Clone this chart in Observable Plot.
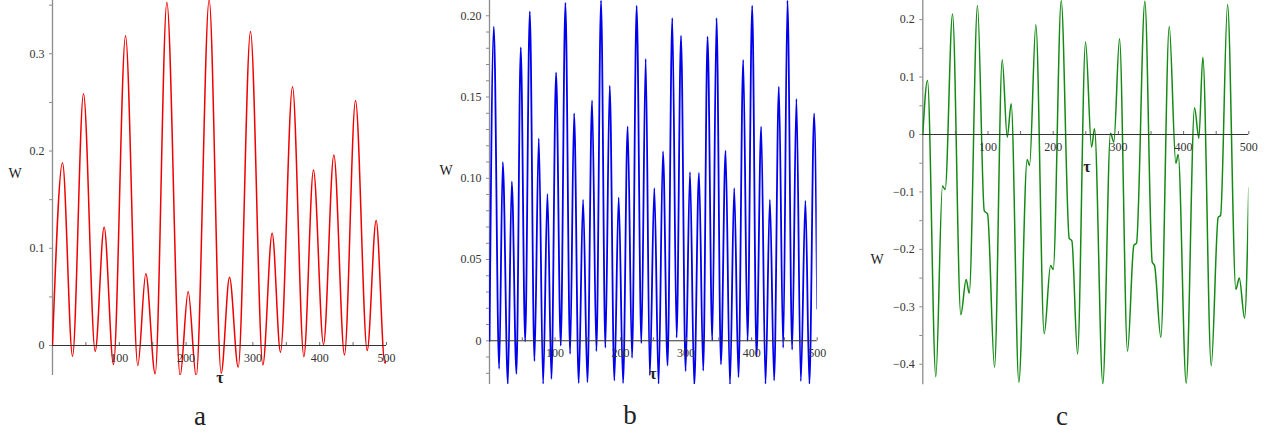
<!DOCTYPE html>
<html><head><meta charset="utf-8">
<script src="https://cdn.jsdelivr.net/npm/d3@7"></script>
<script src="https://cdn.jsdelivr.net/npm/@observablehq/plot@0.6"></script>
<style>
body{margin:0;background:#fff;}
#wrap{position:relative;width:1271px;height:436px;overflow:hidden;background:#fff;font-family:"Liberation Serif","Times New Roman",serif;}
.panel{position:absolute;top:0;}
.lbl{position:absolute;transform:translate(-50%,-50%);white-space:nowrap;color:#222;line-height:1;}
</style></head><body><div id="wrap"></div>
<script>
// ---- data ----
const tauA = [0, 15, 30, 46.4, 63.9, 77.3, 91.3, 109.3, 127.7, 139.7, 153.7, 171.2, 191.1, 203.1, 215.1, 234.5, 252.5, 265, 278, 296.4, 314.9, 328.8, 341.3, 359.3, 376.3, 390.7, 405.7, 421.2, 437.1, 453.6, 471.1, 484.5, 497.5, 500];
const wA = [0, 0.188, -0.011, 0.259, -0.006, 0.1216, -0.0195, 0.3186, -0.0206, 0.0737, -0.029, 0.353, -0.031, 0.0555, -0.032, 0.3555, -0.0285, 0.0702, -0.0223, 0.323, -0.0199, 0.1155, -0.0069, 0.266, -0.0113, 0.1805, 0.001, 0.196, -0.0096, 0.252, -0.005, 0.1285, -0.018, -0.015];

const tauB = [0, 6.6, 14.7, 20.3, 28, 34, 41.1, 47.7, 54.4, 61.5, 68.6, 75.2, 81.8, 88.4, 94.5, 101.6, 108.7, 115.8, 123, 129.1, 136.1, 142.8, 149.4, 156.5, 163.1, 170.2, 176.8, 183.4, 190.5, 197.1, 203.8, 210.8, 217.5, 224.5, 231.7, 238.3, 244.6, 251.5, 258, 264.7, 271.7, 278.9, 285.5, 292.2, 299.2, 305.9, 312.4, 319.6, 326.1, 332.7, 339.9, 346.4, 353.1, 360.2, 366.9, 373.4, 379.9, 387.1, 393.7, 400.8, 407.4, 414.5, 421.1, 427.8, 434.3, 441.5, 448.1, 454.6, 461.8, 468.3, 475, 482, 488.1, 495.3, 500];
const wB = [0, 0.1933, -0.0172, 0.1099, -0.0265, 0.098, -0.0203, 0.1806, -0.0004, 0.2027, -0.0125, 0.1246, -0.0265, 0.0904, -0.0234, 0.1652, -0.003, 0.208, -0.008, 0.140, -0.026, 0.0869, -0.0255, 0.148, -0.0064, 0.2094, -0.0043, 0.157, -0.0244, 0.0883, -0.026, 0.132, -0.0105, 0.2062, -0.0015, 0.1734, -0.0213, 0.0939, -0.0265, 0.1166, -0.0152, 0.1986, 0.002, 0.1878, -0.0187, 0.1037, -0.0275, 0.1033, -0.0183, 0.1871, 0.0002, 0.1986, -0.0146, 0.117, -0.0269, 0.0939, -0.0224, 0.1728, 0, 0.2062, -0.0097, 0.1318, -0.0265, 0.0869, -0.0244, 0.1564, -0.0043, 0.2094, -0.0055, 0.1488, -0.0248, 0.0863, -0.0265, 0.140, 0.0197];

const tauC = [0, 7.2, 20, 30.2, 34.3, 45.6, 58.3, 66.5, 71.2, 83.9, 94.3, 99.3, 110, 121.8, 129.5, 135.6, 147.3, 160.1, 163.7, 173.4, 186.2, 196, 200, 212.3, 224.6, 228.6, 237.3, 249.6, 258.8, 263.4, 276.1, 287.9, 293, 301.7, 314, 323.7, 327.8, 340.6, 351.9, 355.4, 365.1, 378, 388.1, 391.7, 404, 416.8, 423.4, 429.5, 442.4, 453.1, 456.7, 467.4, 480.2, 485.4, 493.5, 500];
const wC = [0, 0.094, -0.4216, -0.0895, -0.0958, 0.210, -0.3136, -0.2526, -0.2765, 0.2247, -0.133, -0.138, -0.4054, 0.130, -0.0047, 0.0535, -0.4315, -0.0436, -0.054, 0.191, -0.347, -0.228, -0.235, 0.233, -0.181, -0.185, -0.382, 0.161, -0.022, 0.0099, -0.4343, 0.0023, -0.0134, 0.1667, -0.3775, -0.193, -0.189, 0.232, -0.2225, -0.228, -0.353, 0.188, -0.050, -0.0348, -0.433, 0.0465, -0.0064, 0.1347, -0.4024, -0.144, -0.141, 0.2265, -0.2695, -0.2497, -0.3194, -0.093];

const xLabels = [100, 200, 300, 400, 500];
const xMinor = [50, 100, 150, 200, 250, 300, 350, 400, 450, 500];
const yMajorA = [0, 0.1, 0.2, 0.3];
const yMinorA = [0, 0.05, 0.1, 0.15, 0.2, 0.25, 0.3, 0.35];
const yMajorB = [0, 0.05, 0.10, 0.15, 0.20];
const yMinorB = [-0.02, -0.01, 0, 0.01, 0.02, 0.03, 0.04, 0.05, 0.06, 0.07, 0.08, 0.09, 0.10, 0.11, 0.12, 0.13, 0.14, 0.15, 0.16, 0.17, 0.18, 0.19, 0.20];
const yMajorC = [-0.4, -0.3, -0.2, -0.1, 0, 0.1, 0.2];
const yMinorC = [-0.4, -0.35, -0.3, -0.25, -0.2, -0.15, -0.1, -0.05, 0, 0.05, 0.1, 0.15, 0.2];

const wrap = document.getElementById("wrap");

function fmtA(d){ return d === 0 ? "0" : d.toFixed(1).replace("-", "\u2212"); }
function fmtB(d){ return d === 0 ? "0" : d.toFixed(2); }

function makePanel(o) {
  const data = o.tau.map((t, i) => ({t, w: o.w[i]}));
  const svg = Plot.plot({
    width: o.width, height: o.height,
    marginLeft: o.mL, marginRight: o.mR, marginTop: 0, marginBottom: o.mB,
    x: {domain: [0, 500], axis: null},
    y: {domain: o.yDomain, axis: null},
    style: {background: "transparent", overflow: "visible", fontFamily: "'Liberation Serif', 'Times New Roman', serif"},
    marks: [
      Plot.ruleX([0], {stroke: "#8c8c8c", strokeWidth: 1.3}),
      Plot.ruleY(o.yMinor, {y: d => d, x1: () => 0, x2: () => 0, insetLeft: -3, stroke: "#8c8c8c"}),
      Plot.text(o.yMajor, {x: () => 0, y: d => d, dx: -8, textAnchor: "end", text: o.fmt, fill: "#333", fontSize: 12}),
      Plot.line(data, {x: "t", y: "w", stroke: o.color, strokeWidth: o.sw, curve: "monotone-x", clip: true}),
      Plot.ruleY([0], {stroke: "#333", strokeWidth: 1.1}),
      Plot.ruleX(xMinor, {x: d => d, y1: () => 0, y2: () => 0, insetTop: -3, stroke: "#666"}),
      Plot.text(xLabels, {x: d => d, y: () => 0, dy: 12.7, text: d => String(d), fill: "#333", fontSize: 12})
    ]
  });
  const div = document.createElement("div");
  div.className = "panel";
  div.style.left = o.left + "px";
  div.appendChild(svg);
  wrap.appendChild(div);
}

makePanel({tau: tauA, w: wA, color: "#f00000", sw: 1.5, left: 0, width: 400, height: 380, mL: 52, mR: 14, mB: 5,
  yDomain: [-0.0308, 0.3548], yMajor: yMajorA, yMinor: yMinorA, fmt: fmtA});
makePanel({tau: tauB, w: wB, color: "#0000ee", sw: 1.8, left: 420, width: 410, height: 390, mL: 69, mR: 13.3, mB: 6,
  yDomain: [-0.0269, 0.2094], yMajor: yMajorB, yMinor: yMinorB, fmt: fmtB});
makePanel({tau: tauC, w: wC, color: "#138a13", sw: 1.5, left: 860, width: 411, height: 390, mL: 62.3, mR: 22.7, mB: 5.7,
  yDomain: [-0.4358, 0.2333], yMajor: yMajorC, yMinor: yMinorC, fmt: fmtA});

function label(txt, x, y, size, weight) {
  const s = document.createElement("span");
  s.className = "lbl";
  s.textContent = txt;
  s.style.left = x + "px";
  s.style.top = y + "px";
  s.style.fontSize = size + "px";
  if (weight) s.style.fontWeight = weight;
  wrap.appendChild(s);
}
label("W", 15, 174, 14);
label("W", 446, 171, 14);
label("W", 877, 260, 14);
label("τ", 220, 378, 16, "bold");
label("τ", 653, 374, 16, "bold");
label("τ", 1087, 167, 16, "bold");
label("a", 200, 416, 27);
label("b", 630, 415, 27);
label("c", 1062, 416, 27);
</script>
</body></html>
